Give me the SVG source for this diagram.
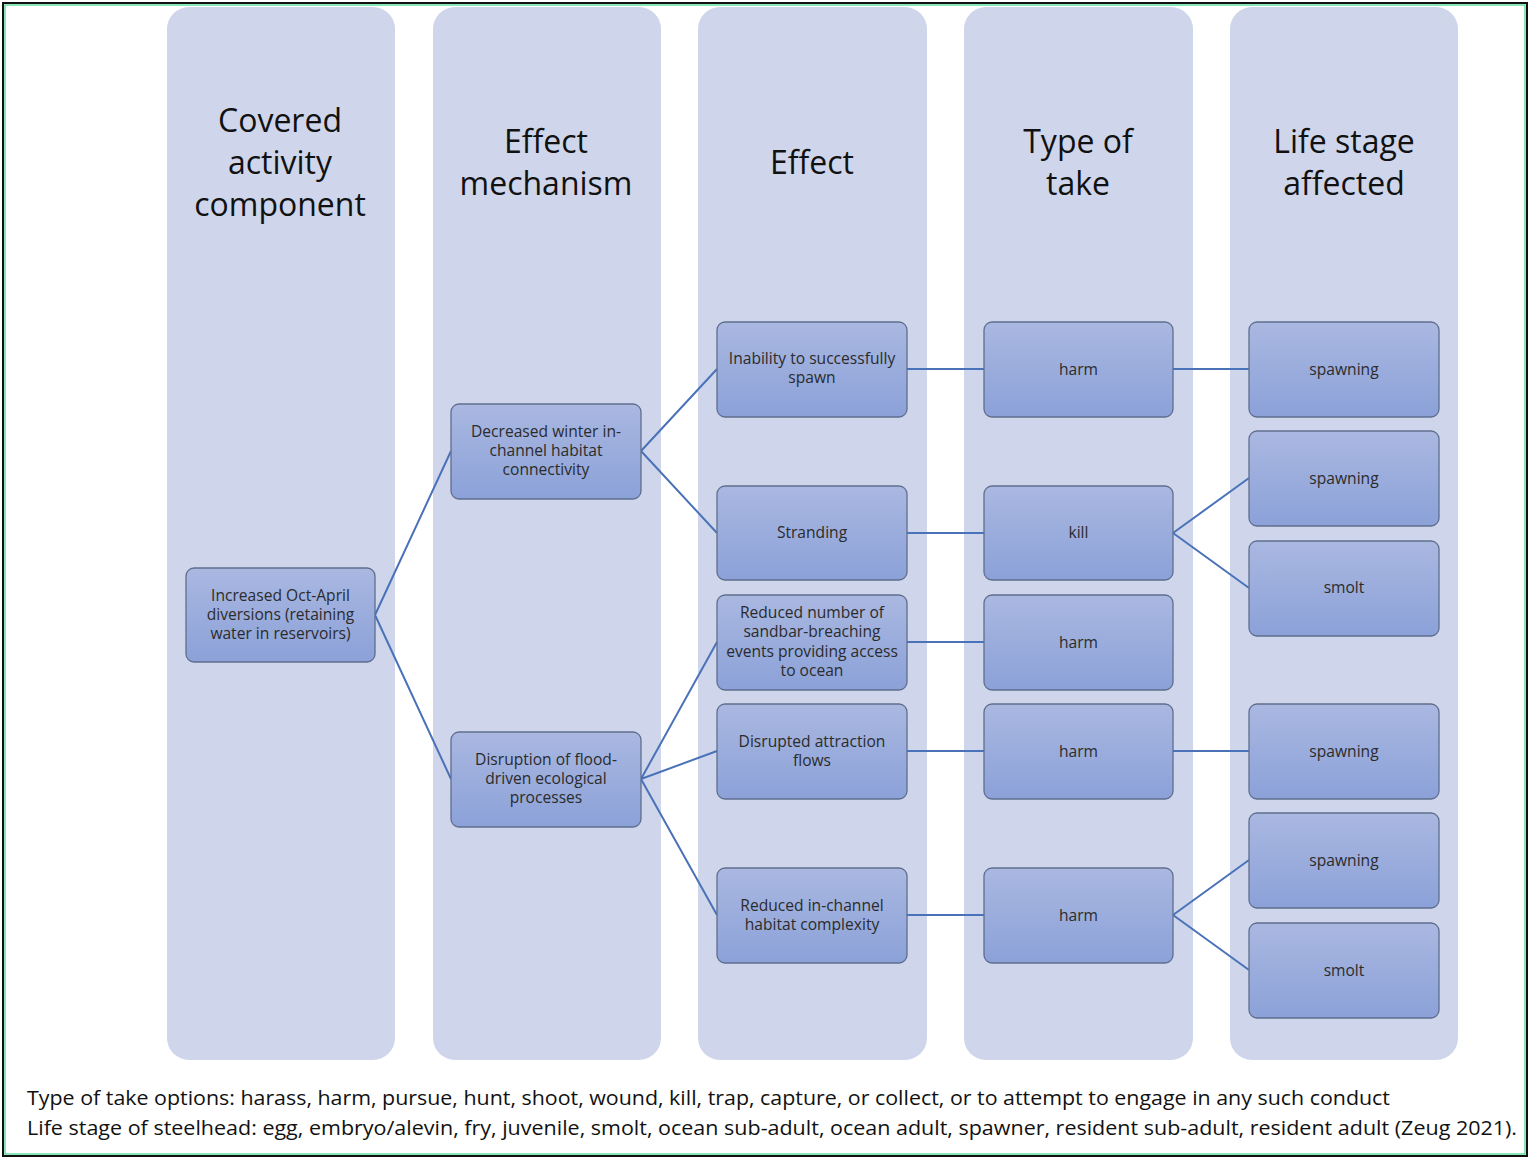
<svg xmlns="http://www.w3.org/2000/svg" width="1530" height="1159" viewBox="0 0 1530 1159">
<style>
.col{fill:#CFD6EB}
.node{fill:url(#g);stroke:#5F6E8E;stroke-width:1.3}
.hd{font-family:"Open Sans","Liberation Sans",sans-serif;font-size:32px;fill:#111;text-anchor:middle}
.nt{font-family:"Open Sans","Liberation Sans",sans-serif;font-size:15.6px;fill:#2b2b2b;text-anchor:middle}
.ft{font-family:"Open Sans","Liberation Sans",sans-serif;font-size:20px;fill:#111}
.cn{stroke:#4A72B8;stroke-width:2;fill:none}
</style>
<defs>
<linearGradient id="g" x1="0" y1="0" x2="0" y2="1">
<stop offset="0" stop-color="#AAB8E1"/>
<stop offset="1" stop-color="#8BA1D8"/>
</linearGradient>
</defs>
<rect x="0" y="0" width="1530" height="1159" fill="#fff"/>
<rect x="3" y="3" width="1524" height="1153" fill="none" stroke="#111" stroke-width="2"/>
<rect x="5" y="5" width="1520" height="1149" fill="none" stroke="#3BD68A" stroke-width="1.2"/>
<g id="columns">
<rect class="col" x="167" y="7" width="228" height="1053" rx="22"/>
<rect class="col" x="433" y="7" width="228" height="1053" rx="22"/>
<rect class="col" x="698" y="7" width="229" height="1053" rx="22"/>
<rect class="col" x="964" y="7" width="229" height="1053" rx="22"/>
<rect class="col" x="1230" y="7" width="228" height="1053" rx="22"/>
</g>
<g id="headers">
<text class="hd" x="280" y="132">Covered</text>
<text class="hd" x="280" y="174">activity</text>
<text class="hd" x="280" y="216">component</text>
<text class="hd" x="546" y="153">Effect</text>
<text class="hd" x="546" y="195">mechanism</text>
<text class="hd" x="812" y="174">Effect</text>
<text class="hd" x="1078" y="153">Type of</text>
<text class="hd" x="1078" y="195">take</text>
<text class="hd" x="1344" y="153">Life stage</text>
<text class="hd" x="1344" y="195">affected</text>
</g>
<g id="connectors">
<path class="cn" d="M375 615 L451 451 M375 615 L451 779"/>
<path class="cn" d="M641 451 L717 369 M641 451 L717 533"/>
<path class="cn" d="M641 779 L717 642 M641 779 L717 751 M641 779 L717 915"/>
<path class="cn" d="M907 369 H984 M907 533 H984 M907 642 H984 M907 751 H984 M907 915 H984"/>
<path class="cn" d="M1173 369 H1249 M1173 533 L1249 478 M1173 533 L1249 588 M1173 751 H1249 M1173 915 L1249 860 M1173 915 L1249 970"/>
</g>
<g id="n-activity"><rect class="node" x="186" y="568" width="189" height="94" rx="8"/><text class="nt" x="280.5" y="601">Increased Oct-April</text><text class="nt" x="280.5" y="620">diversions (retaining</text><text class="nt" x="280.5" y="639">water in reservoirs)</text></g>
<g id="n-winter"><rect class="node" x="451" y="404" width="190" height="95" rx="8"/><text class="nt" x="546" y="437">Decreased winter in-</text><text class="nt" x="546" y="456">channel habitat</text><text class="nt" x="546" y="475">connectivity</text></g>
<g id="n-flood"><rect class="node" x="451" y="732" width="190" height="95" rx="8"/><text class="nt" x="546" y="765">Disruption of flood-</text><text class="nt" x="546" y="784">driven ecological</text><text class="nt" x="546" y="803">processes</text></g>
<g id="n-spawn"><rect class="node" x="717" y="322" width="190" height="95" rx="8"/><text class="nt" x="812" y="364">Inability to successfully</text><text class="nt" x="812" y="383">spawn</text></g>
<g id="n-strand"><rect class="node" x="717" y="486" width="190" height="94" rx="8"/><text class="nt" x="812" y="538">Stranding</text></g>
<g id="n-sandbar"><rect class="node" x="717" y="595" width="190" height="95" rx="8"/><text class="nt" x="812" y="618">Reduced number of</text><text class="nt" x="812" y="637">sandbar-breaching</text><text class="nt" x="812" y="657">events providing access</text><text class="nt" x="812" y="676">to ocean</text></g>
<g id="n-attract"><rect class="node" x="717" y="704" width="190" height="95" rx="8"/><text class="nt" x="812" y="747">Disrupted attraction</text><text class="nt" x="812" y="766">flows</text></g>
<g id="n-complex"><rect class="node" x="717" y="868" width="190" height="95" rx="8"/><text class="nt" x="812" y="911">Reduced in-channel</text><text class="nt" x="812" y="930">habitat complexity</text></g>
<g id="t1"><rect class="node" x="984" y="322" width="189" height="95" rx="8"/><text class="nt" x="1078.5" y="375">harm</text></g>
<g id="t2"><rect class="node" x="984" y="486" width="189" height="94" rx="8"/><text class="nt" x="1078.5" y="538">kill</text></g>
<g id="t3"><rect class="node" x="984" y="595" width="189" height="95" rx="8"/><text class="nt" x="1078.5" y="648">harm</text></g>
<g id="t4"><rect class="node" x="984" y="704" width="189" height="95" rx="8"/><text class="nt" x="1078.5" y="757">harm</text></g>
<g id="t5"><rect class="node" x="984" y="868" width="189" height="95" rx="8"/><text class="nt" x="1078.5" y="921">harm</text></g>
<g id="l1"><rect class="node" x="1249" y="322" width="190" height="95" rx="8"/><text class="nt" x="1344" y="375">spawning</text></g>
<g id="l2"><rect class="node" x="1249" y="431" width="190" height="95" rx="8"/><text class="nt" x="1344" y="484">spawning</text></g>
<g id="l3"><rect class="node" x="1249" y="541" width="190" height="95" rx="8"/><text class="nt" x="1344" y="593">smolt</text></g>
<g id="l4"><rect class="node" x="1249" y="704" width="190" height="95" rx="8"/><text class="nt" x="1344" y="757">spawning</text></g>
<g id="l5"><rect class="node" x="1249" y="813" width="190" height="95" rx="8"/><text class="nt" x="1344" y="866">spawning</text></g>
<g id="l6"><rect class="node" x="1249" y="923" width="190" height="95" rx="8"/><text class="nt" x="1344" y="976">smolt</text></g>
<g id="footer">
<text class="ft" x="27" y="1105" textLength="1363" lengthAdjust="spacingAndGlyphs">Type of take options: harass, harm, pursue, hunt, shoot, wound, kill, trap, capture, or collect, or to attempt to engage in any such conduct</text>
<text class="ft" x="27" y="1135" textLength="1490" lengthAdjust="spacingAndGlyphs">Life stage of steelhead: egg, embryo/alevin, fry, juvenile, smolt, ocean sub-adult, ocean adult, spawner, resident sub-adult, resident adult (Zeug 2021).</text>
</g>
</svg>
